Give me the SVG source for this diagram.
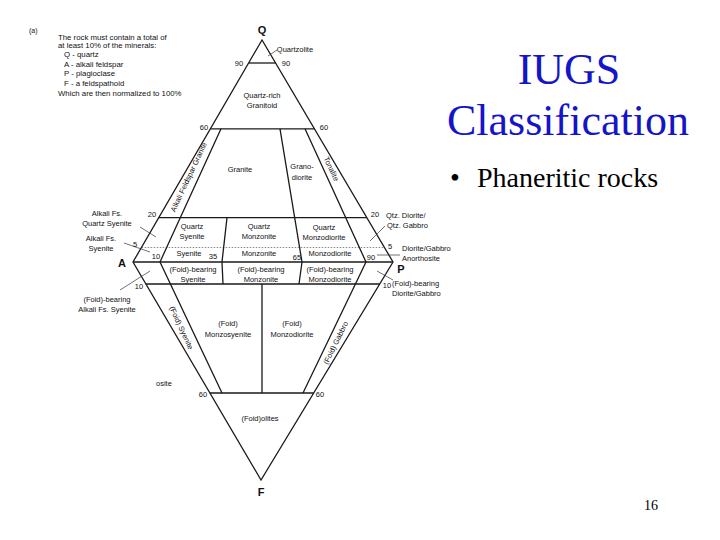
<svg xmlns="http://www.w3.org/2000/svg" width="720" height="540" viewBox="0 0 720 540">
<style>
.ln{stroke:#1a1a1a;stroke-width:1.3;fill:none;stroke-linejoin:miter}
.ld{stroke:#333;stroke-width:0.7;fill:none}
.dt{stroke:#555;stroke-width:0.7;stroke-dasharray:1.5 1.5;fill:none}
.t{font-family:"Liberation Sans",Arial,sans-serif;font-size:7.5px;fill:#111}
.lg{font-size:7.8px}
.c{text-anchor:middle}
.v{font-family:"Liberation Sans",Arial,sans-serif;font-size:11px;font-weight:bold;fill:#111;text-anchor:middle}
.ti{font-family:"Liberation Serif","Times New Roman",serif;font-size:44px;fill:#1414c8;text-anchor:middle}
.bu{font-family:"Liberation Serif","Times New Roman",serif;font-size:28px;fill:#000}
</style>
<rect width="720" height="540" fill="#fff"/>

<g id="legend" class="t lg">
<text x="29" y="33" style="font-size:7px">(a)</text>
<text x="58" y="39.5">The rock must contain a  total of</text>
<text x="58" y="48">at least 10% of the minerals:</text>
<text x="64" y="57">Q - quartz</text>
<text x="64" y="66.5">A - alkali feldspar</text>
<text x="64" y="76">P - plagioclase</text>
<text x="64" y="86">F - a feldspathoid</text>
<text x="58" y="95.5">Which are then normalized to 100%</text>
</g>

<g id="connectors">
<polygon class="ln" points="262,40 133,262 261,480 393,262"/>
<line class="ln" x1="133" y1="262" x2="393" y2="262"/>
<line class="ln" x1="249" y1="63" x2="276" y2="63"/>
<line class="ln" x1="210.4" y1="128.8" x2="314.4" y2="128.8"/>
<line class="ln" x1="158.8" y1="217.6" x2="366.8" y2="217.6"/>
<line class="dt" x1="141.7" y1="247.5" x2="384" y2="247.5"/>
<line class="ln" x1="145.8" y1="284" x2="379.8" y2="284"/>
<line class="ln" x1="209.8" y1="393" x2="313.8" y2="393"/>
<polyline class="ln" points="221,128.8 160,262 222,393"/>
<polyline class="ln" points="227,217.6 222,262 223,284"/>
<polyline class="ln" points="280,128.8 302,262 299,284"/>
<polyline class="ln" points="305,128.8 366,262 303,393"/>
<line class="ln" x1="262" y1="284" x2="262" y2="393"/>
<line class="ld" x1="268" y1="56" x2="277" y2="50"/>
<line class="ld" x1="140" y1="227" x2="156" y2="237"/>
<line class="ld" x1="124" y1="243" x2="150" y2="252"/>
<line class="ld" x1="120" y1="290" x2="150" y2="271"/>
<line class="ld" x1="370" y1="241" x2="385" y2="226"/>
<line class="ld" x1="377" y1="255" x2="400" y2="255"/>
<line class="ld" x1="377" y1="271" x2="393" y2="280"/>
</g>

<g id="vertices">
<text class="v" x="262" y="34">Q</text>
<text class="v" x="122" y="267">A</text>
<text class="v" x="401" y="273">P</text>
<text class="v" x="261" y="496">F</text>
</g>

<g id="ticks" class="t c">
<text x="239" y="66">90</text>
<text x="286" y="66">90</text>
<text x="204" y="130">60</text>
<text x="324" y="130">60</text>
<text x="152" y="217">20</text>
<text x="375" y="217">20</text>
<text x="135" y="247">5</text>
<text x="390" y="249">5</text>
<text x="156" y="259">10</text>
<text x="213" y="259">35</text>
<text x="297" y="260">65</text>
<text x="371" y="260">90</text>
<text x="139" y="289">10</text>
<text x="387" y="288">10</text>
<text x="203" y="397">60</text>
<text x="320" y="397">60</text>
</g>

<g id="quartzolite" class="t c"><text x="295" y="52">Quartzolite</text></g>
<g id="quartz-rich-granitoid" class="t c"><text x="262" y="98">Quartz-rich</text><text x="262" y="108">Granitoid</text></g>
<g id="alkali-feldspar-granite" class="t c"><text transform="translate(191,178) rotate(-65)">Alkali Feldspar Granite</text></g>
<g id="granite" class="t c"><text x="240" y="172">Granite</text></g>
<g id="granodiorite" class="t c"><text x="302" y="169">Grano-</text><text x="302" y="180">diorite</text></g>
<g id="tonalite" class="t c"><text transform="translate(329,170) rotate(64.5)">Tonalite</text></g>
<g id="quartz-syenite" class="t c"><text x="192" y="229">Quartz</text><text x="192" y="238.5">Syenite</text></g>
<g id="quartz-monzonite" class="t c"><text x="259" y="229">Quartz</text><text x="259" y="238.5">Monzonite</text></g>
<g id="quartz-monzodiorite" class="t c"><text x="324" y="229.5">Quartz</text><text x="324" y="239.5">Monzodiorite</text></g>
<g id="syenite" class="t c"><text x="189" y="256">Syenite</text></g>
<g id="monzonite" class="t c"><text x="259" y="256">Monzonite</text></g>
<g id="monzodiorite" class="t c"><text x="330" y="256">Monzodiorite</text></g>
<g id="foid-bearing-syenite" class="t c"><text x="193" y="271.5">(Foid)-bearing</text><text x="193" y="281.5">Syenite</text></g>
<g id="foid-bearing-monzonite" class="t c"><text x="261" y="271.5">(Foid)-bearing</text><text x="261" y="281.5">Monzonite</text></g>
<g id="foid-bearing-monzodiorite" class="t c"><text x="330" y="272">(Foid)-bearing</text><text x="330" y="282">Monzodiorite</text></g>
<g id="foid-syenite" class="t c"><text transform="translate(179,329) rotate(65)">(Foid) Syenite</text></g>
<g id="foid-monzosyenite" class="t c"><text x="228" y="326">(Foid)</text><text x="228" y="337">Monzosyenite</text></g>
<g id="foid-monzodiorite" class="t c"><text x="292" y="326">(Foid)</text><text x="292" y="337">Monzodiorite</text></g>
<g id="foid-gabbro" class="t c"><text transform="translate(338,344) rotate(-64)">(Foid) Gabbro</text></g>
<g id="foidolites" class="t c"><text x="260" y="421">(Foid)olites</text></g>
<g id="osite" class="t"><text x="156" y="386">osite</text></g>

<g id="alkali-fs-quartz-syenite" class="t c"><text x="107" y="216">Alkali Fs.</text><text x="107" y="225.5">Quartz Syenite</text></g>
<g id="alkali-fs-syenite" class="t c"><text x="101" y="241">Alkali Fs.</text><text x="101" y="251">Syenite</text></g>
<g id="foid-bearing-alkali-fs-syenite" class="t c"><text x="107" y="302">(Foid)-bearing</text><text x="107" y="312">Alkali Fs. Syenite</text></g>
<g id="qtz-diorite" class="t"><text x="386" y="218">Qtz. Diorite/</text><text x="387" y="228">Qtz. Gabbro</text></g>
<g id="diorite-anorthosite" class="t"><text x="402" y="251">Diorite/Gabbro</text><text x="402" y="260.5">Anorthosite</text></g>
<g id="foid-bearing-diorite" class="t"><text x="392" y="286">(Foid)-bearing</text><text x="392" y="295.5">Diorite/Gabbro</text></g>

<g id="title">
<text class="ti" x="569" y="84">IUGS</text>
<text class="ti" x="568" y="135">Classification</text>
</g>
<g id="bullet">
<text class="bu" x="450" y="187">•</text>
<text class="bu" x="477" y="187">Phaneritic rocks</text>
</g>
<g id="page"><text x="651" y="510" style="font-family:'Liberation Serif','Times New Roman',serif;font-size:14px;text-anchor:middle">16</text></g>
</svg>
